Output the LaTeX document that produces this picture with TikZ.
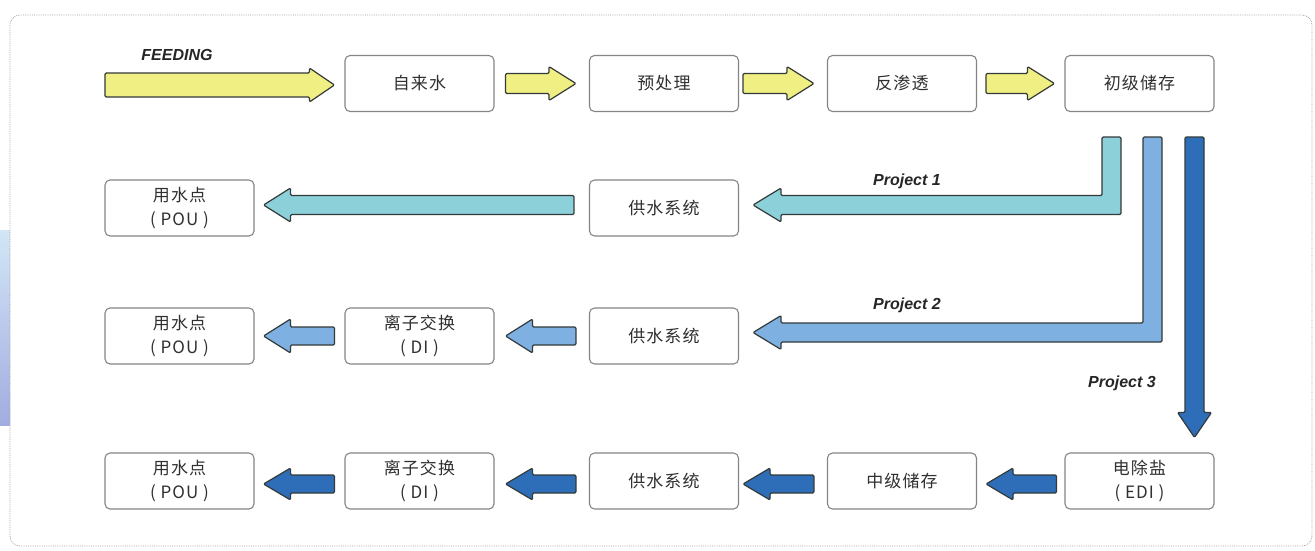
\documentclass[tikz,border=0pt]{standalone}
\usepackage{fontspec}
\setmainfont{Noto Sans CJK SC}
\newfontfamily\labfont{Liberation Sans}
\usetikzlibrary{calc}
\definecolor{yfill}{HTML}{F0EF84}
\definecolor{cfill}{HTML}{8CD0DA}
\definecolor{lbfill}{HTML}{7EB0E2}
\definecolor{dbfill}{HTML}{2E6EB8}
\definecolor{aedge}{HTML}{343A3A}
\definecolor{bedge}{HTML}{858585}
\definecolor{txt}{HTML}{303030}
\definecolor{decotop}{HTML}{D2E6F6}
\definecolor{decobot}{HTML}{A3ACE0}
\tikzset{
  box/.style={draw=bedge, line width=1.1pt, rounded corners=5pt, fill=white,
    minimum width=149pt, minimum height=56pt, inner sep=0pt, align=center,
    text=txt, font=\fontsize{17}{24}\selectfont\addfontfeature{LetterSpace=6}},
  fat/.style={draw=aedge, line width=1.2pt, rounded corners=1.2pt, line join=round},
  yarr/.style={fat, fill=yfill},
  carr/.style={fat, fill=cfill},
  lbarr/.style={fat, fill=lbfill},
  dbarr/.style={fat, fill=dbfill},
  lbl/.style={font=\labfont\bfseries\itshape\fontsize{16}{18}\selectfont, text=black!85}
}
% right-pointing block arrow: style, tail, tip, shaft half-width, head half-width
\newcommand\rarrow[5]{\draw[#1] let \p1=(#2), \p2=(#3) in
  (\x1,\y2+#4) -- (\x2-27pt,\y2+#4) -- (\x2-27pt,\y2+#5) -- (\x2,\y2)
  -- (\x2-27pt,\y2-#5) -- (\x2-27pt,\y2-#4) -- (\x1,\y2-#4) -- cycle;}
% left-pointing block arrow
\newcommand\larrow[5]{\draw[#1] let \p1=(#2), \p2=(#3) in
  (\x1,\y2+#4) -- (\x2+27pt,\y2+#4) -- (\x2+27pt,\y2+#5) -- (\x2,\y2)
  -- (\x2+27pt,\y2-#5) -- (\x2+27pt,\y2-#4) -- (\x1,\y2-#4) -- cycle;}
\begin{document}
\begin{tikzpicture}[x=1pt,y=-1pt]
\useasboundingbox (0,0) rectangle (1315,550);
\fill[white] (0,0) rectangle (1315,550);
% left decoration
\shade[top color=decotop, bottom color=decobot] (0,230) rectangle (10,425);
% frame
\draw[densely dotted, draw=black!35, line width=0.8pt, rounded corners=10pt] (10,15) rectangle (1312,546);

% row 1
\node[box] (tap) at (419.5,83.5) {自来水};
\node[box] (pre) at (664,83.5) {预处理};
\node[box] (ro) at (902,83.5) {反渗透};
\node[box] (store) at (1139.5,83.5) {初级储存};
% row 2
\node[box] (pou1) at (179.5,208) {用水点\\( POU )};
\node[box] (sup1) at (664,208) {供水系统};
% row 3
\node[box] (pou2) at (179.5,336) {用水点\\( POU )};
\node[box] (di2) at (419.5,336) {离子交换\\( DI )};
\node[box] (sup2) at (664,336) {供水系统};
% row 4
\node[box] (pou3) at (179.5,481) {用水点\\( POU )};
\node[box] (di3) at (419.5,481) {离子交换\\( DI )};
\node[box] (sup3) at (664,481) {供水系统};
\node[box] (mid) at (902,481) {中级储存};
\node[box] (edi) at (1139.5,481) {电除盐\\( EDI )};

\coordinate (feed) at (105,85);

% feeding arrows
\draw[yarr] let \p1=(feed), \p2=($(tap.west)+(-10,1.5)$) in
  (\x1,\y2+12pt) -- (\x2-25pt,\y2+12pt) -- (\x2-25pt,\y2+17pt) -- (\x2,\y2)
  -- (\x2-25pt,\y2-17pt) -- (\x2-25pt,\y2-12pt) -- (\x1,\y2-12pt) -- cycle;
\rarrow{yarr}{$(tap.east)+(11,0)$}{$(pre.west)+(-13,0)$}{10pt}{17pt}
\rarrow{yarr}{$(pre.east)+(4,0)$}{$(ro.west)+(-13,0)$}{10pt}{17pt}
\rarrow{yarr}{$(ro.east)+(9,0)$}{$(store.west)+(-10,0)$}{10pt}{17pt}

% project 1
\draw[carr] let \p1=(store.south), \p2=($(sup1.east)+(14,-3)$) in
  (\x1-37.5pt,\y1-25pt) -- (\x1-18.5pt,\y1-25pt) -- (\x1-18.5pt,\y2-9.5pt)
  -- (\x2+28pt,\y2-9.5pt) -- (\x2+28pt,\y2-17pt) -- (\x2,\y2) -- (\x2+28pt,\y2+17pt)
  -- (\x2+28pt,\y2+9.5pt) -- (\x1-37.5pt,\y2+9.5pt) -- cycle;
% project 2
\draw[lbarr] let \p1=(store.south), \p2=($(sup2.east)+(14,-3.5)$) in
  (\x1+3.5pt,\y1-25pt) -- (\x1+22.5pt,\y1-25pt) -- (\x1+22.5pt,\y2-9.5pt)
  -- (\x2+28pt,\y2-9.5pt) -- (\x2+28pt,\y2-17pt) -- (\x2,\y2) -- (\x2+28pt,\y2+17pt)
  -- (\x2+28pt,\y2+9.5pt) -- (\x1+3.5pt,\y2+9.5pt) -- cycle;
% project 3
\draw[dbarr] let \p1=(store.south), \p2=($(edi.north)+(0,-15)$) in
  (\x1+45.5pt,\y1-25pt) -- (\x1+64.5pt,\y1-25pt) -- (\x1+64.5pt,\y2+25pt)
  -- (\x1+72pt,\y2+25pt) -- (\x1+55pt,\y2) -- (\x1+38pt,\y2+25pt)
  -- (\x1+45.5pt,\y2+25pt) -- cycle;

% row 2 arrow
\larrow{carr}{$(sup1.west)+(-15,-3)$}{$(pou1.east)+(9,-3)$}{9.5pt}{17pt}
% row 3 arrows
\larrow{lbarr}{$(di2.west)+(-10,0)$}{$(pou2.east)+(9,0)$}{9pt}{17pt}
\larrow{lbarr}{$(sup2.west)+(-13,0)$}{$(di2.east)+(11,0)$}{9pt}{17pt}
% row 4 arrows
\larrow{dbarr}{$(di3.west)+(-10,3)$}{$(pou3.east)+(9,3)$}{9pt}{16pt}
\larrow{dbarr}{$(sup3.west)+(-13,3)$}{$(di3.east)+(11,3)$}{9pt}{16pt}
\larrow{dbarr}{$(mid.west)+(-13,3)$}{$(sup3.east)+(4,3)$}{9pt}{16pt}
\larrow{dbarr}{$(edi.west)+(-8,3)$}{$(mid.east)+(9,3)$}{9pt}{16pt}

% labels
\node[lbl] (lfeed) at (177,55) {FEEDING};
\node[lbl] (lp1) at (907,181) {Project 1};
\node[lbl] (lp2) at (907,305) {Project 2};
\node[lbl] (lp3) at (1122,383) {Project 3};
\end{tikzpicture}
\end{document}
